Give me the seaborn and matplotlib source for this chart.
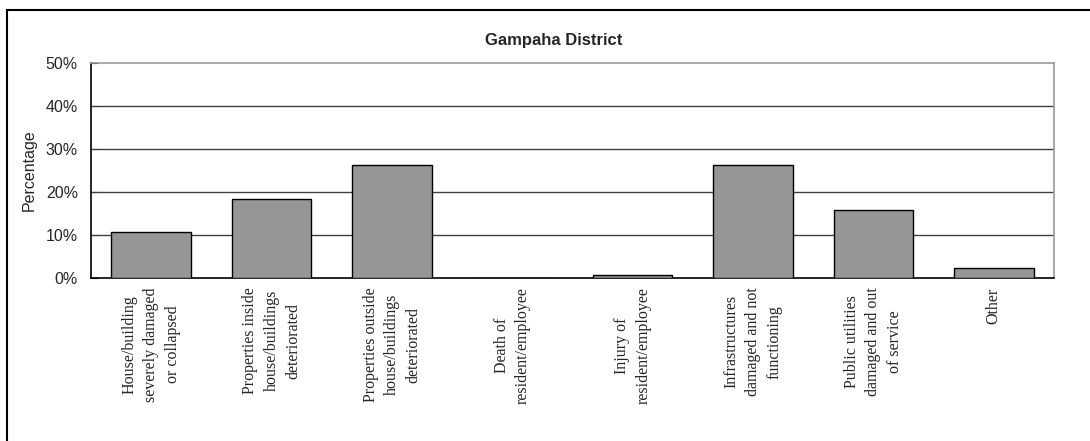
import matplotlib
matplotlib.use("Agg")
import matplotlib.pyplot as plt
from matplotlib.lines import Line2D
from matplotlib.ticker import FixedLocator, PercentFormatter
import pandas as pd
import seaborn as sns

categories = [
    "House/building\nseverely damaged\nor collapsed",
    "Properties inside\nhouse/buildings\ndeteriorated",
    "Properties outside\nhouse/buildings\ndeteriorated",
    "Death of\nresident/employee",
    "Injury of\nresident/employee",
    "Infrastructures\ndamaged and not\nfunctioning",
    "Public utilities\ndamaged and out\nof service",
    "Other",
]
percent = [10.7, 18.3, 26.2, 0.0, 0.7, 26.2, 15.8, 2.2]
yticks = [0, 10, 20, 30, 40, 50]
title = "Gampaha District"

sns.set_style("white")
plt.rcParams["font.family"] = ["Liberation Sans", "DejaVu Sans"]

df = pd.DataFrame({"cat": categories, "pct": percent})

fig = plt.figure(figsize=(10.9, 4.41), dpi=100)
ax = fig.add_axes([91 / 1090, 1 - 277.7 / 441, (1054 - 91) / 1090, (277.7 - 62.7) / 441])

sns.barplot(data=df, x="cat", y="pct", ax=ax, color="#969696", saturation=1,
            edgecolor="black", linewidth=1.0, width=0.66, zorder=3)

ax.set_xlim(-0.5, len(categories) - 0.5)
ax.set_ylim(0, 50)
ax.yaxis.set_major_locator(FixedLocator(yticks))
ax.yaxis.set_major_formatter(PercentFormatter(decimals=0))
for t in yticks[1:-1]:
    ax.axhline(t, color="#404040", linewidth=1.0, zorder=1)

# category borders as inward ticks
ax.xaxis.set_minor_locator(FixedLocator([i + 0.5 for i in range(len(categories) - 1)]))
ax.tick_params(axis="x", which="major", length=0, pad=7)
ax.tick_params(axis="x", which="minor", direction="in", length=5, width=0.8, color="black")
ax.tick_params(axis="y", direction="in", length=5, width=0.8, color="black", pad=9.5,
               labelsize=11.5, left=True)

for lab in ax.get_xticklabels():
    lab.set_rotation(90)
    lab.set_ha("center")
    lab.set_va("top")
    lab.set_multialignment("center")
    lab.set_family(["Liberation Serif", "DejaVu Serif"])
    lab.set_fontsize(11.5)
    lab.set_linespacing(1.45)

ax.set_xlabel("")
ax.set_ylabel("Percentage", fontsize=11.5, labelpad=6)

for s in ["left", "bottom"]:
    ax.spines[s].set_color("black")
    ax.spines[s].set_linewidth(1.2)
for s in ["top", "right"]:
    ax.spines[s].set_visible(True)
    ax.spines[s].set_color("#9a9a9a")
    ax.spines[s].set_linewidth(1.2)

fig.text(554 / 1090, 1 - 41 / 441, title, ha="center", va="center",
         fontsize=12, fontweight="bold")

# outer chart border (top and left visible)
fig.add_artist(Line2D([6.5 / 1090, 6.5 / 1090], [0, 1 - 10 / 441],
                      transform=fig.transFigure, color="black", linewidth=1.5))
fig.add_artist(Line2D([6.5 / 1090, 1], [1 - 10 / 441, 1 - 10 / 441],
                      transform=fig.transFigure, color="black", linewidth=1.5))

fig.savefig("out.png", dpi=100)
